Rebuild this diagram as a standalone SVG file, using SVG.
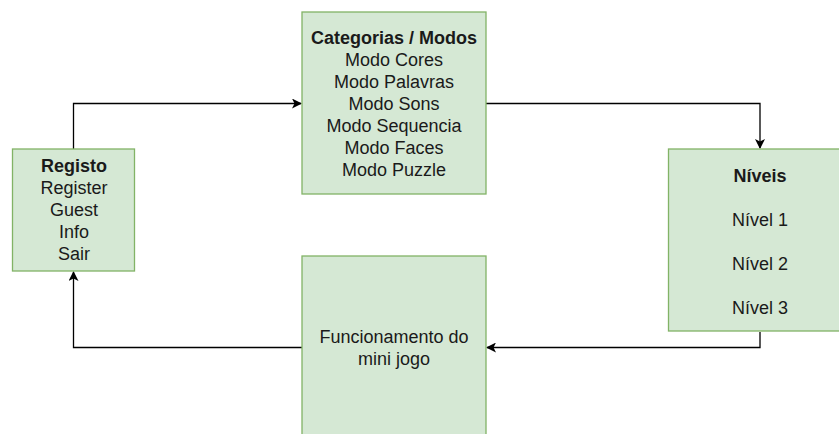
<svg xmlns="http://www.w3.org/2000/svg" width="839" height="434" viewBox="0 0 839 434">
<defs>
<style>
.box{fill:#d5e8d4;stroke:#82b366;stroke-width:1.3}
.t{font-family:"Liberation Sans",Arial,sans-serif;font-size:18px;fill:#1a1a1a;text-anchor:middle}
.b{font-weight:bold}
.c{fill:none;stroke:#000;stroke-width:1.3}
</style>
<marker id="ah" viewBox="0 0 10 10" refX="9" refY="5" markerWidth="10" markerHeight="10" markerUnits="userSpaceOnUse" orient="auto">
<path d="M0,0 L10,5 L0,10 L2.5,5 Z" fill="#000"/>
</marker>
</defs>
<rect width="839" height="434" fill="#fff"/>
<g id="connectors">
<path class="c" d="M73.5,149 V103.5 H301" marker-end="url(#ah)"/>
<path class="c" d="M486,103.5 H760 V148" marker-end="url(#ah)"/>
<path class="c" d="M760,332 V347.5 H487" marker-end="url(#ah)"/>
<path class="c" d="M302,347.5 H73.5 V272" marker-end="url(#ah)"/>
</g>
<g id="registo">
<rect class="box" x="12.5" y="149" width="122" height="122"/>
<text class="t b" x="74" y="172">Registo</text>
<text class="t" x="74" y="194">Register</text>
<text class="t" x="74" y="216">Guest</text>
<text class="t" x="74" y="238">Info</text>
<text class="t" x="74" y="260">Sair</text>
</g>
<g id="categorias">
<rect class="box" x="302" y="12" width="184" height="182"/>
<text class="t b" x="394" y="44">Categorias / Modos</text>
<text class="t" x="394" y="66">Modo Cores</text>
<text class="t" x="394" y="88">Modo Palavras</text>
<text class="t" x="394" y="110">Modo Sons</text>
<text class="t" x="394" y="132">Modo Sequencia</text>
<text class="t" x="394" y="154">Modo Faces</text>
<text class="t" x="394" y="176">Modo Puzzle</text>
</g>
<g id="niveis">
<rect class="box" x="668.5" y="149" width="184" height="182"/>
<text class="t b" x="760" y="182">Níveis</text>
<text class="t" x="760" y="226">Nível 1</text>
<text class="t" x="760" y="270">Nível 2</text>
<text class="t" x="760" y="314">Nível 3</text>
</g>
<g id="funcionamento">
<rect class="box" x="302" y="256" width="184" height="182"/>
<text class="t" x="394" y="343">Funcionamento do</text>
<text class="t" x="394" y="365">mini jogo</text>
</g>
</svg>
